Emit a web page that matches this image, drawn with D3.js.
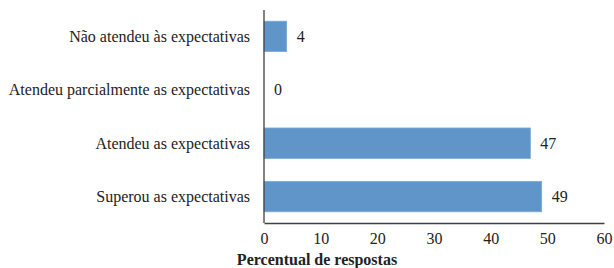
<html>
<head>
  <meta charset="UTF-8">
  <style>
    body { margin: 0; background: #fff; }
    svg { display: block; }
    svg text { font-family: "Liberation Serif", "Times New Roman", Times, "DejaVu Serif", serif; }
  </style>
</head>
<body>
  <svg width="614" height="268"></svg>

  <script src="https://d3js.org/d3.v7.min.js"></script>
  <script>
    const categories = [
      "Não atendeu às expectativas",
      "Atendeu parcialmente as expectativas",
      "Atendeu as expectativas",
      "Superou as expectativas"
    ];
    const values = [4, 0, 47, 49];
    const xTicks = [0, 10, 20, 30, 40, 50, 60];
    const xTitle = "Percentual de respostas";

    const FONT = "'Liberation Serif', 'Times New Roman', Times, 'DejaVu Serif', serif";
    let FS = 16.8;

    const svg = d3.select("svg");
    const margin = { left: 264, right: 10, top: 10, bottom: 45 };
    const width = 614, height = 268;

    const x = d3.scaleLinear().domain([0, 60]).range([margin.left, 604]);
    const y = d3.scaleBand()
      .domain(categories)
      .range([margin.top, height - margin.bottom])
      .paddingInner(0.43)
      .paddingOuter(0.21);

    const data = categories.map((c, i) => ({ c, v: values[i] }));

    // bars
    svg.append("g")
      .selectAll("rect")
      .data(data.filter(d => d.v > 0))
      .join("rect")
      .attr("x", x(0))
      .attr("y", d => y(d.c))
      .attr("width", d => x(d.v) - x(0))
      .attr("height", y.bandwidth())
      .attr("fill", "#5f95c9")
      .attr("stroke", "#7aaad6")
      .attr("stroke-width", 0.8);

    // value labels
    svg.append("g")
      .selectAll("text")
      .data(data)
      .join("text")
      .attr("class", "lbl")
      .attr("x", d => x(d.v) + 10)
      .attr("y", d => y(d.c) + y.bandwidth() / 2)
      .attr("dy", "0.35em")
      .attr("fill", "#222")
      .text(d => d.v);

    // category labels
    const cats = svg.append("g")
      .selectAll("text")
      .data(categories)
      .join("text")
      .attr("class", "lbl")
      .attr("x", 250)
      .attr("y", d => y(d) + y.bandwidth() / 2)
      .attr("dy", "0.35em")
      .attr("text-anchor", "end")
      .attr("fill", "#222")
      .text(d => d);

    // x axis
    const xAxis = svg.append("g")
      .attr("transform", `translate(0,${height - margin.bottom})`)
      .call(d3.axisBottom(x).tickValues(xTicks).tickSize(0).tickPadding(10));
    xAxis.select(".domain").attr("stroke", "#404040").attr("stroke-width", 1.3);
    xAxis.selectAll(".tick text")
      .attr("class", "lbl")
      .attr("fill", "#222");

    // y axis line
    svg.append("line")
      .attr("x1", x(0)).attr("x2", x(0))
      .attr("y1", margin.top).attr("y2", height - margin.bottom)
      .attr("stroke", "#404040")
      .attr("stroke-width", 1.3);

    svg.append("text")
      .attr("class", "lbl")
      .attr("x", 317)
      .attr("y", 265)
      .attr("text-anchor", "middle")
      .style("font-weight", "bold")
      .attr("fill", "#222")
      .text(xTitle);

    const labels = svg.selectAll(".lbl")
      .style("font-family", FONT)
      .style("font-size", FS + "px");

    // shrink if the fallback font is wider than the reference serif
    const maxW = d3.max(cats.nodes(), n => n.getComputedTextLength());
    if (maxW > 241) {
      FS = FS * 241 / maxW;
      labels.style("font-size", FS + "px");
    }
  </script>
</body>
</html>
